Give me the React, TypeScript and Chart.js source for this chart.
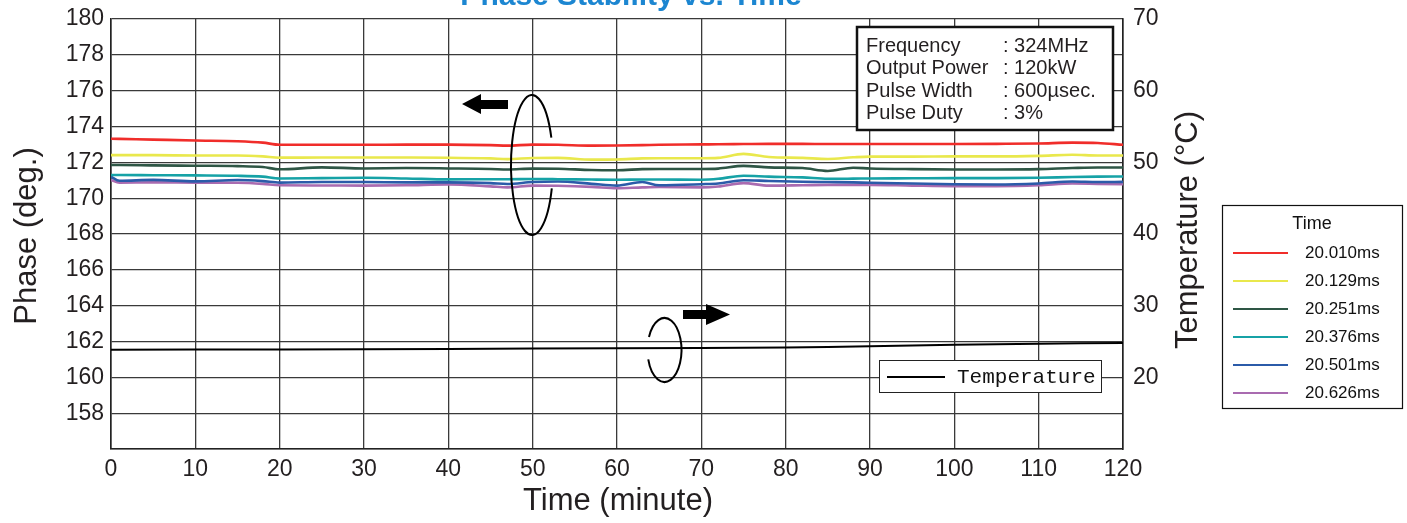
import { useEffect, useRef } from "react";
import { Chart, registerables } from "chart.js";

Chart.register(...registerables);

// ---------- data ----------
const times = [0, 1, 5, 10, 15, 18, 20, 25, 30, 35, 40, 45, 47, 50, 53, 57, 60, 63, 65, 70, 72, 75, 78, 82, 85, 88, 90, 95, 100, 105, 110, 114, 117, 120];

const seriesNames = ["20.010ms", "20.129ms", "20.251ms", "20.376ms", "20.501ms", "20.626ms"];

const phase010 = [173.32, 173.31, 173.27, 173.22, 173.18, 173.1, 172.98, 172.98, 172.98, 172.99, 172.99, 172.96, 172.93, 172.99, 172.98, 172.93, 172.94, 172.96, 172.98, 173.0, 173.01, 173.02, 173.03, 173.03, 173.02, 173.02, 173.02, 173.02, 173.02, 173.03, 173.05, 173.1, 173.08, 172.98];
const phase129 = [172.4, 172.4, 172.4, 172.38, 172.38, 172.33, 172.26, 172.27, 172.27, 172.27, 172.26, 172.22, 172.18, 172.24, 172.25, 172.15, 172.16, 172.22, 172.23, 172.23, 172.25, 172.47, 172.3, 172.25, 172.19, 172.28, 172.32, 172.32, 172.33, 172.33, 172.36, 172.42, 172.38, 172.38];
const phase251 = [171.85, 171.85, 171.83, 171.81, 171.79, 171.74, 171.61, 171.72, 171.66, 171.68, 171.66, 171.63, 171.6, 171.65, 171.64, 171.57, 171.56, 171.62, 171.63, 171.63, 171.65, 171.8, 171.72, 171.68, 171.52, 171.7, 171.66, 171.62, 171.6, 171.6, 171.62, 171.68, 171.71, 171.71];
const phase376 = [171.29, 171.29, 171.28, 171.27, 171.25, 171.2, 171.1, 171.12, 171.14, 171.1, 171.05, 171.06, 171.06, 171.07, 171.06, 171.04, 171.03, 171.04, 171.04, 171.03, 171.08, 171.25, 171.2, 171.16, 171.08, 171.09, 171.1, 171.11, 171.12, 171.12, 171.14, 171.18, 171.2, 171.21];
const phase501 = [171.2, 170.97, 171.02, 170.94, 171.01, 170.95, 170.87, 170.9, 170.9, 170.88, 170.88, 170.84, 170.79, 170.9, 170.93, 170.8, 170.7, 170.9, 170.72, 170.78, 170.82, 171.0, 170.96, 170.92, 170.9, 170.88, 170.86, 170.82, 170.78, 170.76, 170.82, 170.93, 170.9, 170.91];
const phase626 = [171.01, 170.87, 170.88, 170.87, 170.86, 170.8, 170.72, 170.71, 170.7, 170.72, 170.77, 170.66, 170.6, 170.7, 170.69, 170.63, 170.55, 170.6, 170.62, 170.6, 170.65, 170.84, 170.7, 170.72, 170.74, 170.74, 170.74, 170.7, 170.67, 170.67, 170.72, 170.82, 170.8, 170.78];

const tempTimes = [0, 20, 40, 60, 80, 90, 100, 110, 120];
const temperature = [23.85, 23.9, 23.97, 24.05, 24.15, 24.35, 24.55, 24.7, 24.8];

const infoLabels = ["Frequency", "Output Power", "Pulse Width", "Pulse Duty"];
const infoValues = [": 324MHz", ": 120kW", ": 600\u00b5sec.", ": 3%"];

const seriesColors = ["#f02d2a", "#e9e84c", "#2e5645", "#16a2a6", "#2b5ba9", "#a96bb0"];

const SANS = '"Liberation Sans", Arial, sans-serif';

const overlay = {
  id: "overlay",
  afterDraw(chart: any) {
    const ctx: CanvasRenderingContext2D = chart.ctx;
    ctx.save();

    // title (clipped at top)
    ctx.fillStyle = "#1c86d1";
    ctx.font = `bold 30px ${SANS}`;
    ctx.textAlign = "center";
    ctx.textBaseline = "alphabetic";
    ctx.fillText("Phase Stability vs. Time", 631, 5);

    // axis titles
    ctx.fillStyle = "#231f20";
    ctx.font = `31px ${SANS}`;
    ctx.textBaseline = "middle";
    ctx.fillText("Time (minute)", 618, 501);
    ctx.save();
    ctx.translate(27, 236);
    ctx.rotate(-Math.PI / 2);
    ctx.fillText("Phase (deg.)", 0, 0);
    ctx.restore();
    ctx.save();
    ctx.translate(1188, 230);
    ctx.rotate(-Math.PI / 2);
    ctx.fillText("Temperature (\u00b0C)", 0, 0);
    ctx.restore();

    // info box
    ctx.fillStyle = "#ffffff";
    ctx.fillRect(857, 27, 256, 103);
    ctx.strokeStyle = "#111";
    ctx.lineWidth = 2.5;
    ctx.strokeRect(857, 27, 256, 103);
    ctx.fillStyle = "#231f20";
    ctx.font = `20px ${SANS}`;
    ctx.textAlign = "left";
    ctx.textBaseline = "middle";
    infoLabels.forEach((l, i) => {
      const y = 46 + i * 22.6;
      ctx.fillText(l, 866, y);
      ctx.fillText(infoValues[i], 1003, y);
    });

    // temperature legend box
    ctx.fillStyle = "#ffffff";
    ctx.fillRect(879, 360, 222, 32);
    ctx.strokeStyle = "#222";
    ctx.lineWidth = 1;
    ctx.strokeRect(879.5, 360.5, 222, 32);
    ctx.strokeStyle = "#000";
    ctx.lineWidth = 2;
    ctx.beginPath();
    ctx.moveTo(887, 377);
    ctx.lineTo(945, 377);
    ctx.stroke();
    ctx.fillStyle = "#111";
    ctx.font = `21px "Liberation Mono", "DejaVu Sans Mono", monospace`;
    ctx.fillText("Temperature", 957, 377);

    // right legend
    ctx.strokeStyle = "#111";
    ctx.lineWidth = 1.2;
    ctx.strokeRect(1222.5, 205.5, 180, 203);
    ctx.fillStyle = "#111";
    ctx.font = `18px ${SANS}`;
    ctx.textAlign = "center";
    ctx.fillText("Time", 1312, 224);
    ctx.textAlign = "left";
    ctx.font = `17px ${SANS}`;
    const ds = chart.data.datasets;
    let k = 0;
    ds.forEach((d: any) => {
      if (d.yAxisID !== "y") return;
      const y = 253 + k * 28;
      ctx.strokeStyle = d.borderColor;
      ctx.lineWidth = 2;
      ctx.beginPath();
      ctx.moveTo(1233, y);
      ctx.lineTo(1288, y);
      ctx.stroke();
      ctx.fillStyle = "#111";
      ctx.fillText(d.label, 1305, y);
      k++;
    });

    // annotations: arrows
    ctx.fillStyle = "#000";
    ctx.beginPath();
    ctx.moveTo(462, 104);
    ctx.lineTo(481, 94);
    ctx.lineTo(481, 100);
    ctx.lineTo(508, 100);
    ctx.lineTo(508, 109);
    ctx.lineTo(481, 109);
    ctx.lineTo(481, 114);
    ctx.closePath();
    ctx.fill();
    ctx.beginPath();
    ctx.moveTo(730, 314.5);
    ctx.lineTo(706, 304);
    ctx.lineTo(706, 310);
    ctx.lineTo(683, 310);
    ctx.lineTo(683, 319);
    ctx.lineTo(706, 319);
    ctx.lineTo(706, 325);
    ctx.closePath();
    ctx.fill();

    // ellipses
    ctx.strokeStyle = "#000";
    ctx.lineWidth = 2;
    ctx.beginPath();
    ctx.ellipse(532, 165, 21, 70, 0, 0.34, Math.PI * 2 - 0.4);
    ctx.stroke();
    ctx.beginPath();
    ctx.ellipse(664.5, 350, 17, 32, 0, Math.PI + 0.42, Math.PI * 3 - 0.3);
    ctx.stroke();

    ctx.restore();
  },
};

export default function App() {
  const ref = useRef<HTMLCanvasElement>(null);
  useEffect(() => {
    document.body.style.margin = "0";
    const phaseSeries = [phase010, phase129, phase251, phase376, phase501, phase626];
    const datasets: any[] = phaseSeries.map((arr, i) => ({
      label: seriesNames[i],
      data: arr.map((v, j) => ({ x: times[j], y: v })),
      borderColor: seriesColors[i],
      backgroundColor: seriesColors[i],
      borderWidth: 2.6,
      pointRadius: 0,
      tension: 0.4,
      cubicInterpolationMode: "monotone",
      yAxisID: "y",
    }));
    datasets.push({
      label: "Temperature",
      data: temperature.map((v, j) => ({ x: tempTimes[j], y: v })),
      borderColor: "#000",
      backgroundColor: "#000",
      borderWidth: 2,
      pointRadius: 0,
      tension: 0.3,
      yAxisID: "y1",
    });

    const gridColor = "#3a3a3a";
    const tickFont = { family: SANS, size: 23 };
    const chart = new Chart(ref.current as HTMLCanvasElement, {
      type: "line",
      data: { datasets },
      options: {
        animation: false,
        responsive: true,
        maintainAspectRatio: false,
        layout: { padding: { top: 19, left: 0, right: 0, bottom: 0 } },
        plugins: {
          legend: { display: false },
          title: { display: false },
          tooltip: { enabled: false },
        },
        scales: {
          x: {
            type: "linear",
            min: 0,
            max: 120,
            ticks: {
              stepSize: 10,
              color: "#231f20",
              font: tickFont,
              padding: 7,
              maxRotation: 0,
              autoSkip: false,
            },
            grid: { color: gridColor, lineWidth: 1.3, drawTicks: false },
            border: { color: "#222", width: 1.6 },
            afterFit: (s: any) => {
              s.height = 74;
              s.paddingLeft = 0;
              s.paddingRight = 0;
            },
          },
          y: {
            type: "linear",
            position: "left",
            min: 156,
            max: 180,
            ticks: {
              stepSize: 2,
              color: "#231f20",
              font: tickFont,
              padding: 7,
              autoSkip: false,
              callback: (v: any) => (v === 156 ? "" : String(v)),
            },
            grid: { color: gridColor, lineWidth: 1.3, drawTicks: false },
            border: { color: "#222", width: 1.6 },
            afterFit: (s: any) => {
              s.width = 111;
              s.paddingTop = 0;
              s.paddingBottom = 0;
            },
          },
          y1: {
            type: "linear",
            position: "right",
            min: 10,
            max: 70,
            ticks: {
              stepSize: 10,
              color: "#231f20",
              font: tickFont,
              padding: 10,
              autoSkip: false,
              callback: (v: any) => (v === 10 ? "" : String(v)),
            },
            grid: { drawOnChartArea: false, drawTicks: false },
            border: { color: "#222", width: 1.6 },
            afterFit: (s: any) => {
              s.width = 284;
              s.paddingTop = 0;
              s.paddingBottom = 0;
            },
          },
        },
      } as any,
      plugins: [overlay],
    });
    return () => chart.destroy();
  }, []);

  return (
    <div style={{ position: "absolute", left: 0, top: 0, width: 1407, height: 523, background: "#fff" }}>
      <canvas ref={ref} />
    </div>
  );
}
